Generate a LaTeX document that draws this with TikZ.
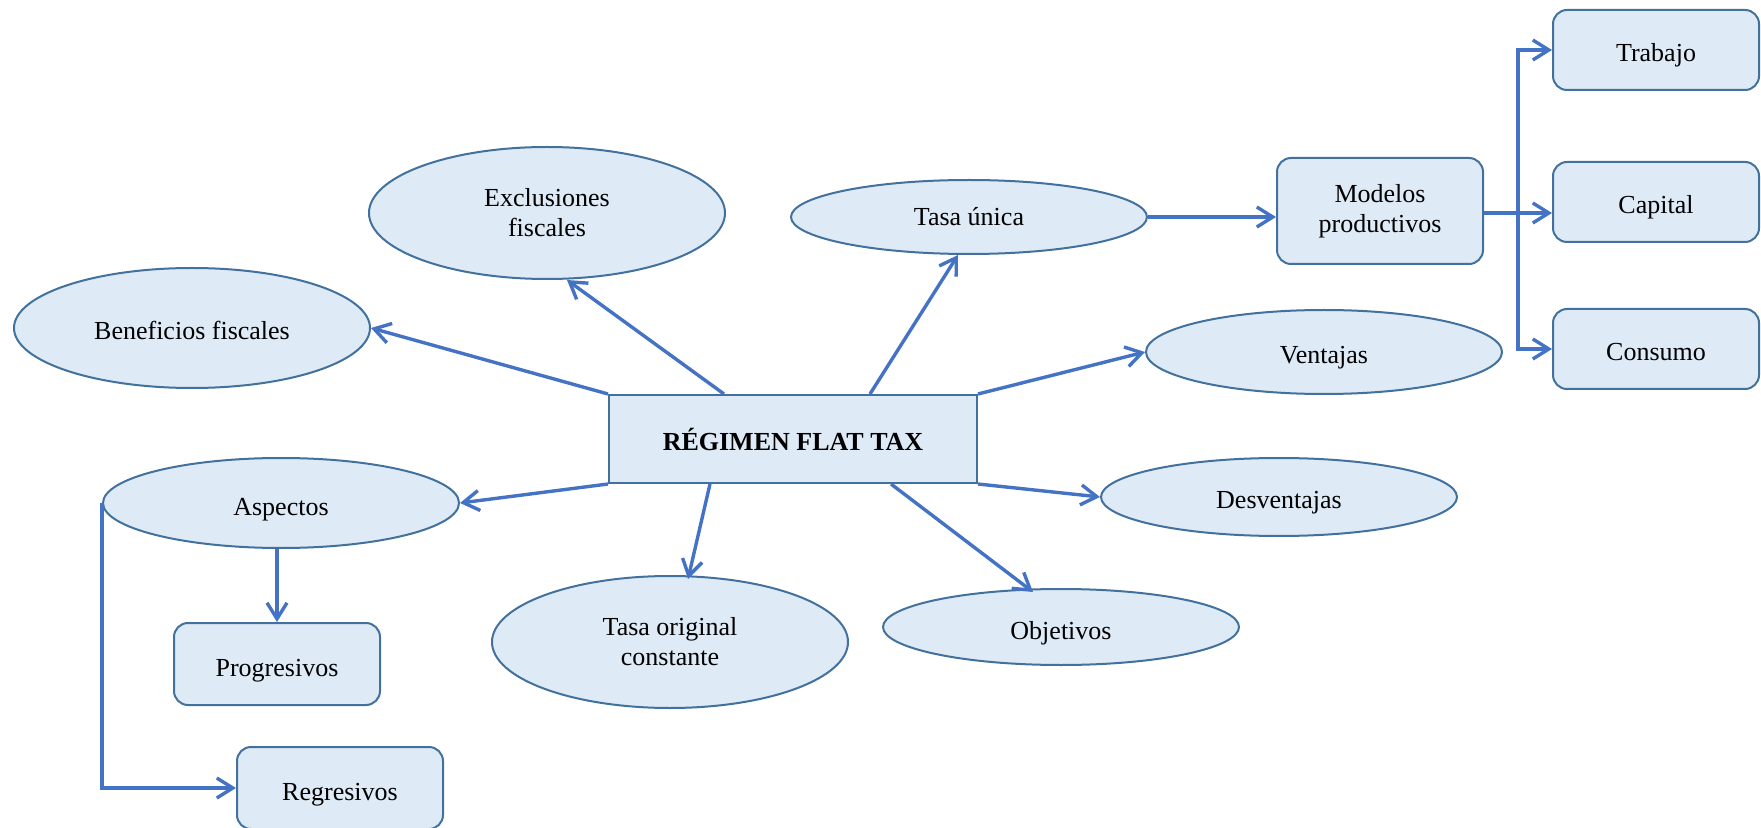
\documentclass[tikz,border=0pt]{standalone}
\usepackage{fontspec}
\setmainfont{Liberation Serif}
\usetikzlibrary{shapes.geometric,arrows.meta}
\definecolor{relleno}{HTML}{DEEAF6}
\definecolor{borde}{HTML}{41719C}
\definecolor{flecha}{HTML}{4472C4}
\begin{document}
\begin{tikzpicture}[
    x=0.5pt, y=-0.5pt,
    every node/.style={font=\fontsize{13}{15}\selectfont, text=black},
    elipse/.style={ellipse, draw=borde, fill=relleno, line width=1pt, inner sep=0pt, minimum width=178pt, align=center}, % Estilo para elipses
    caja/.style={rectangle, rounded corners=7pt, draw=borde, fill=relleno, line width=1pt, minimum width=103pt, minimum height=40pt, align=center}, % Estilo para cajas redondeadas
    central/.style={rectangle, draw=borde, fill=relleno, line width=1pt, minimum width=184pt, minimum height=44pt, font=\fontsize{13}{15}\selectfont\bfseries}, % Estilo para el nodo central
    unalinea/.style={text height=12pt, text depth=0pt}, % Texto de una sola linea
    flechita/.style={draw=flecha, line width=1.7pt, -{Straight Barb[length=8pt, width=10pt, line width=1.7pt]}} % Estilo para flechas
]
    \useasboundingbox (0,0) rectangle (1761,828);

    % Nodo central
    \node[central] (flat) at (793,439) {RÉGIMEN FLAT TAX};

    % Elipses
    \node[elipse, minimum height=66pt] (excl) at (547,213) {Exclusiones\\fiscales};
    \node[elipse, minimum height=37pt] (tasa) at (969,217) {Tasa única};
    \node[elipse, unalinea, minimum height=60pt] (benef) at (192,328) {Beneficios fiscales};
    \node[elipse, unalinea, minimum height=42pt] (vent) at (1324,352) {Ventajas};
    \node[elipse, unalinea, minimum height=45pt] (asp) at (281,503) {Aspectos};
    \node[elipse, unalinea, minimum height=39pt] (desv) at (1279,497) {Desventajas};
    \node[elipse, minimum height=66pt] (orig) at (670,642) {Tasa original\\constante};
    \node[elipse, unalinea, minimum height=38pt] (obj) at (1061,627) {Objetivos};

    % Cajas
    \node[caja, minimum height=53pt] (modelos) at (1380,211) {Modelos\\productivos};
    \node[caja, unalinea] (trabajo) at (1656,50) {Trabajo};
    \node[caja, unalinea] (capital) at (1656,202) {Capital};
    \node[caja, unalinea] (consumo) at (1656,349) {Consumo};
    \node[caja, unalinea, minimum height=41pt] (prog) at (277,664) {Progresivos};
    \node[caja, unalinea, minimum height=41pt] (reg) at (340,788) {Regresivos};

    % Flechas desde el nodo central
    \draw[flechita] (flat.north west) -- (benef.east);
    \draw[flechita] ([xshift=-34.5pt]flat.north) -- ([xshift=10pt]excl.south);
    \draw[flechita] ([xshift=38.5pt]flat.north) -- ([xshift=-5.5pt]tasa.south);
    \draw[flechita] (flat.north east) -- (vent.west);
    \draw[flechita] (flat.south east) -- (desv.west);
    \draw[flechita] ([xshift=49pt]flat.south) -- ([xshift=-14pt, yshift=-2pt]obj.north);
    \draw[flechita] ([xshift=-41.5pt]flat.south) -- ([xshift=9pt, yshift=-2pt]orig.north);
    \draw[flechita] (flat.south west) -- (asp.east);

    % Modelos productivos
    \coordinate (bus) at (1518,213);
    \draw[flechita] (tasa.east) -- ([yshift=-3pt]modelos.west);
    \draw[flechita] (modelos.east |- bus) -- (capital.west |- bus);
    \draw[flechita] (bus) |- (trabajo.west);
    \draw[flechita] (bus) |- (consumo.west);

    % Aspectos
    \draw[flechita] (prog.north |- asp.south) -- (prog.north);
    \draw[flechita] (asp.west) |- (reg.west);

\end{tikzpicture}
\end{document}
